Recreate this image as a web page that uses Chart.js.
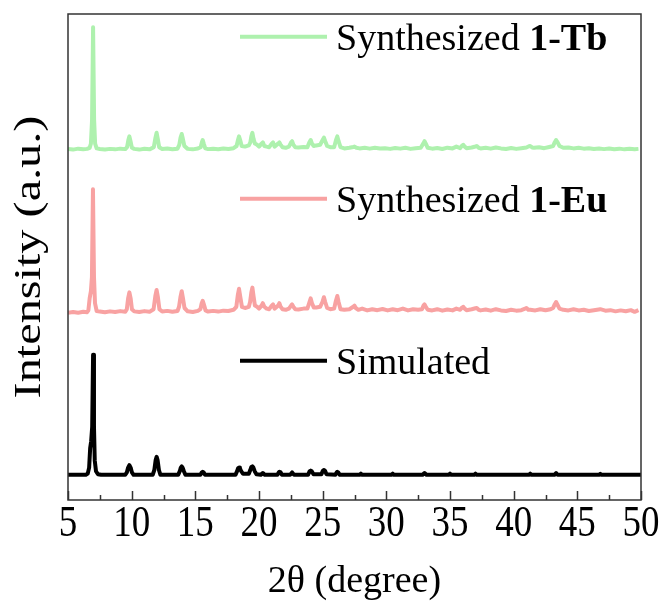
<!DOCTYPE html>
<html>
<head>
<meta charset="utf-8">
<script src="https://cdn.jsdelivr.net/npm/chart.js@4.4.0/dist/chart.umd.min.js"></script>
<style>
  body { margin: 0; background: #fff; }
  canvas { display: block; }
</style>
</head>
<body>
<canvas id="xrdChart" width="662" height="610"></canvas>
<script>
// 2-theta range and tick labels
var thetaMin = 5, thetaMax = 50, thetaStep = 5;
var thetaLabels = ["5", "10", "15", "20", "25", "30", "35", "40", "45", "50"];

// vertical offsets of each pattern (a.u.)
var simOffset = 21, euOffset = 156, tbOffset = 292;

// simulated pattern [2theta, intensity]
var simPattern = [
  [5.0,0],[6.4,0],[6.55,1],[6.66,6],[6.74,22],[6.82,28],[6.9,40],[6.97,100],[7.04,40],[7.1,12],[7.2,3],[7.35,0.5],[7.6,0],
  [9.5,0],[9.62,2],[9.72,6],[9.82,8],[9.92,6],[10.02,2],[10.15,0],
  [11.65,0],[11.78,4],[11.88,12],[11.96,15],[12.04,12],[12.14,4],[12.26,0],
  [13.65,0],[13.78,3],[13.86,6],[13.93,7],[14.0,6],[14.1,3],[14.22,0],
  [15.4,0],[15.5,1.8],[15.58,2.5],[15.66,1.8],[15.76,0],
  [18.15,0],[18.28,3],[18.36,5.5],[18.43,6],[18.5,5.5],[18.6,3],[18.75,0.8],[19.2,0.8],[19.3,3.5],[19.4,6.5],[19.48,7],
  [19.56,6],[19.66,3],[19.8,0.5],
  [20.15,0],[20.3,1.5],[20.45,0],[21.45,0],[21.55,2],[21.6,2.5],[21.7,2],[21.8,0],[22.45,0],[22.6,2],[22.75,0],
  [23.85,0],[23.98,3],[24.06,3.5],[24.14,3],[24.28,0.5],[24.9,0.5],[25.02,3.5],[25.1,4],[25.18,3.5],[25.3,0.5],
  [26.0,0],[26.1,2],[26.15,2.5],[26.22,2],[26.35,0],
  [27.9,0],[28.0,1],[28.1,0],[30.4,0],[30.5,1],[30.6,0],[32.85,0],[33.0,1.5],[33.15,0],
  [34.9,0],[35.0,1],[35.1,0],[36.9,0],[37.0,1],[37.1,0],[41.2,0],[41.3,1],[41.4,0],
  [43.2,0],[43.33,1.5],[43.45,0],[46.7,0],[46.8,0.8],[46.9,0],[50.0,0]
];

// synthesized 1-Eu [2theta, intensity]
var euPattern = [
  [5.0,0],[5.4,0.6],[5.8,0.1],[6.2,0.8],[6.5,0.5],[6.6,2],[6.7,12],[6.8,18],[6.88,30],[6.96,103],[7.04,30],[7.12,8],[7.25,1.5],
  [7.5,1],[7.9,0.4],[8.3,1.2],[8.7,0.6],[9.1,1.4],[9.5,0.8],[9.62,3],[9.72,12],[9.82,17],[9.92,12],[10.02,3],
  [10.2,1.2],[10.6,0.6],[11.0,1.4],[11.4,0.8],[11.72,3],[11.86,14],[11.96,19],[12.06,13],[12.18,3],[12.4,1],[12.8,1.6],
  [13.2,0.8],[13.6,1.5],[13.72,5],[13.83,13],[13.93,18],[14.03,12],[14.15,4],[14.4,1.2],[14.8,0.7],[15.2,1.6],
  [15.4,3],[15.5,8],[15.58,10],[15.67,7],[15.8,2],[16.0,1],[16.4,1.6],[16.8,1],[17.2,1.8],[17.6,1.5],[18.0,2.5],
  [18.22,5],[18.34,15],[18.43,20],[18.52,14],[18.66,5],[18.9,4],[19.2,5],[19.3,9],[19.4,17],[19.48,21],[19.57,14],
  [19.68,6],[19.85,5],[20.0,3.5],
  [20.2,6],[20.3,8],[20.42,5],[20.6,3.5],[20.8,3],[21.0,6],[21.1,7],[21.22,3.5],[21.5,6],[21.6,8],[21.7,5],[21.85,3],
  [22.1,2.5],[22.35,3.5],[22.52,6],[22.6,7],[22.7,5],[22.85,3],[23.1,2.8],[23.5,3.5],[23.8,3.5],[23.94,8],[24.06,12],
  [24.16,8],[24.3,4.5],[24.5,4.5],[24.8,5],[24.98,9],[25.1,13],[25.2,9],[25.35,4],[25.6,3],[25.9,3.5],[26.04,10],
  [26.15,14],[26.25,9],[26.4,3],[26.7,2.5],[27.1,3],[27.4,5],[27.5,6],[27.6,4],
  [27.8,2.5],[28.1,3.5],[28.5,2],[28.9,3],[29.3,2.2],[29.7,3.2],[30.1,2],[30.5,3],[30.9,2.2],
  [31.3,3.5],[31.7,2],[32.1,3],[32.5,2.5],[32.8,3],[32.92,6],[33.0,7],[33.1,5],[33.25,2.5],[33.6,2],[34.0,3],
  [34.4,1.8],[34.8,2.8],[35.2,2],[35.5,3.5],[35.8,2.5],[35.96,4.5],[36.05,5],[36.15,3.5],[36.3,2.2],[36.7,3],[37.0,3.8],
  [37.1,4],[37.25,2.5],[37.4,2],[37.8,2.8],[38.2,1.8],[38.6,3],[39.0,2],[39.4,1.5],[39.8,2.5],[40.2,1.8],[40.6,2.2],
  [40.9,3.5],[41.0,4],[41.15,2.5],[41.3,2.5],[41.7,2],[42.1,3],[42.5,2.2],[42.9,3],[43.1,4],[43.22,7],[43.33,9],
  [43.45,6.5],[43.6,3.5],[43.9,2.5],[44.3,2],[44.7,3],[45.1,2],[45.5,2.5],[45.9,1.5],[46.3,2.2],[46.8,3],[47.2,1.8],
  [47.6,2.2],[48.0,1.2],[48.4,2],[48.8,1.3],[49.2,2.2],[49.5,0.8],[49.8,2.2]
];

// synthesized 1-Tb [2theta, intensity]
var tbPattern = [
  [5.0,0.5],[5.4,0],[5.8,0.8],[6.2,0.3],[6.5,0.6],[6.7,1.5],[6.8,5],[6.89,25],[6.97,102],[7.05,25],[7.13,5],[7.25,1],
  [7.5,0.5],[7.9,0],[8.3,0.6],[8.7,0.2],[9.1,0.8],[9.5,0.4],[9.64,2],[9.74,8],[9.82,11],[9.91,7],[10.02,1.5],
  [10.2,0.6],[10.6,0],[11.0,0.7],[11.4,0.2],[11.74,2],[11.87,10],[11.96,14],[12.05,9],[12.16,2],[12.4,0.5],[12.8,0.9],
  [13.2,0.3],[13.6,0.8],[13.74,4],[13.84,10],[13.93,13],[14.02,9],[14.14,3],[14.4,0.6],[14.8,0.2],[15.2,0.9],
  [15.42,2],[15.51,6],[15.58,8],[15.66,5],[15.78,1],[16.0,0.4],[16.4,0.8],[16.8,0.3],[17.2,0.9],[17.6,0.5],[18.0,1.2],
  [18.24,3],[18.35,8],[18.43,11],[18.52,8],[18.64,3],[18.9,2.5],[19.2,3.5],[19.32,6],[19.4,11],[19.48,14],[19.57,9],
  [19.68,5],[19.85,4],[20.0,2.5],
  [20.2,5],[20.3,6],[20.42,3],[20.6,2.5],[20.8,2],[21.0,5],[21.1,6],[21.22,2.5],[21.5,5],[21.6,6],[21.7,4],[21.85,2],
  [22.1,1.5],[22.35,2.5],[22.52,6],[22.6,7],[22.7,4],[22.85,2],[23.1,1.8],[23.5,2.2],[23.8,2],[23.95,6],[24.06,8],
  [24.16,5],[24.3,3],[24.5,3.5],[24.8,4],[25.0,8],[25.1,10],[25.2,7],[25.35,3],[25.6,2],[25.9,2],[26.05,8],
  [26.15,11],[26.25,7],[26.4,2],[26.7,1],[27.1,1.5],[27.4,2.2],[27.5,2.5],[27.65,1.5],
  [27.9,1],[28.3,1.5],[28.7,0.8],[29.1,1.6],[29.5,1],[29.9,1.2],[30.3,0.6],[30.7,1.4],[31.1,0.8],
  [31.5,1.5],[31.9,0.6],[32.3,1.2],[32.7,1.5],[32.9,5],[33.0,7],[33.1,5],[33.25,1.5],[33.6,0.8],[34.0,1.3],
  [34.4,0.5],[34.8,1.6],[35.2,1],[35.5,2.5],[35.8,1.2],[35.96,3.5],[36.05,4],[36.15,2.5],[36.3,1.2],[36.7,1.8],[37.0,2.6],
  [37.1,3],[37.25,1.5],[37.4,1],[37.8,1.6],[38.2,0.8],[38.6,1.8],[39.0,1],[39.4,0.5],[39.8,1.3],[40.2,0.6],[40.6,1.2],
  [41.0,1.8],[41.2,2.8],[41.3,3],[41.45,1.8],[41.6,1.5],[42.0,2],[42.4,1.2],[42.8,2.2],[43.1,3],[43.22,6],[43.33,8],
  [43.45,6],[43.6,3],[43.9,1.5],[44.3,1.8],[44.7,1],[45.1,1.5],[45.5,0.8],[45.9,1.2],[46.3,0.5],[46.7,1],[47.1,0.4],
  [47.5,0.9],[47.9,0.3],[48.3,0.8],[48.7,0.2],[49.1,0.7],[49.5,0.3],[49.8,0.6]
];

// legend rows: [plain text, bold text, colour, y in a.u.]
var legendRows = [
  ["Synthesized ", "1-Tb", "#aef1ae", 386],
  ["Synthesized ", "1-Eu", "#f8a2a2", 251],
  ["Simulated", "", "#000000", 116]
];

var serif = "'Times New Roman', 'Liberation Serif', serif";

function shift(pattern, offset) {
  return pattern.map(function (p) { return { x: p[0], y: p[1] + offset }; });
}

function line(label, data, colour) {
  return {
    label: label,
    data: data,
    borderColor: colour,
    borderWidth: 4,
    borderJoinStyle: "round",
    pointRadius: 0,
    tension: 0,
    fill: false
  };
}

// box around the plot, inward ticks, tick labels and the y title (tall lettering)
var framePlugin = {
  id: "frame",
  afterDraw: function (chart) {
    var ctx = chart.ctx, a = chart.chartArea, xs = chart.scales.x;
    ctx.save();
    ctx.strokeStyle = "#333";
    ctx.lineWidth = 1.5;
    ctx.strokeRect(a.left, a.top, a.right - a.left, a.bottom - a.top);
    ctx.beginPath();
    for (var t = thetaMin; t <= thetaMax + 0.01; t += thetaStep / 2) {
      var px = Math.round(xs.getPixelForValue(t)) + 0.5;
      var major = Math.abs((t - thetaMin) % thetaStep) < 0.01;
      ctx.moveTo(px, a.bottom);
      ctx.lineTo(px, a.bottom - (major ? 9 : 5));
    }
    ctx.stroke();

    ctx.fillStyle = "#000";
    ctx.font = "37px " + serif;
    ctx.textAlign = "center";
    ctx.textBaseline = "middle";
    thetaLabels.forEach(function (lab, i) {
      ctx.save();
      ctx.translate(xs.getPixelForValue(thetaMin + i * thetaStep), a.bottom + 25);
      ctx.scale(1, 1.18);
      ctx.fillText(lab, 0, 0);
      ctx.restore();
    });

    ctx.save();
    ctx.translate(30, (a.top + a.bottom) / 2);
    ctx.rotate(-Math.PI / 2);
    ctx.scale(1.27, 1);
    ctx.font = "38px " + serif;
    ctx.fillText("Intensity (a.u.)", 0, 0);
    ctx.restore();
    ctx.restore();
  }
};

// legend with a bold sample name
var legendPlugin = {
  id: "mixedLegend",
  afterDraw: function (chart) {
    var ctx = chart.ctx, ys = chart.scales.y;
    ctx.save();
    legendRows.forEach(function (row) {
      var y = ys.getPixelForValue(row[3]);
      ctx.strokeStyle = row[2];
      ctx.lineWidth = 4;
      ctx.beginPath();
      ctx.moveTo(240, y);
      ctx.lineTo(327, y);
      ctx.stroke();
      ctx.fillStyle = "#000";
      ctx.textBaseline = "alphabetic";
      ctx.font = "38px " + serif;
      ctx.fillText(row[0], 336, y + 13);
      var w = ctx.measureText(row[0]).width;
      ctx.font = "bold 38px " + serif;
      ctx.fillText(row[1], 336 + w, y + 13);
    });
    ctx.restore();
  }
};

new Chart(document.getElementById("xrdChart"), {
  type: "line",
  data: {
    datasets: [
      line("Simulated", shift(simPattern, simOffset), "#000000"),
      line("Synthesized 1-Eu", shift(euPattern, euOffset), "#f8a2a2"),
      line("Synthesized 1-Tb", shift(tbPattern, tbOffset), "#aef1ae")
    ]
  },
  options: {
    responsive: false,
    animation: false,
    devicePixelRatio: 1,
    layout: { padding: { top: 14, right: 21, left: 0, bottom: 0 } },
    plugins: { legend: { display: false }, tooltip: { enabled: false } },
    scales: {
      x: {
        type: "linear",
        min: thetaMin,
        max: thetaMax,
        grid: { display: false, drawTicks: false },
        border: { display: false },
        ticks: { display: false, stepSize: thetaStep },
        title: {
          display: true,
          text: "2θ (degree)",
          color: "#000",
          padding: { top: 0, bottom: 5 },
          font: { family: serif, size: 38 }
        },
        afterFit: function (s) { s.height = 110; }
      },
      y: {
        min: 0,
        max: 405,
        grid: { display: false, drawTicks: false },
        border: { display: false },
        ticks: { display: false },
        title: { display: false },
        afterFit: function (s) { s.width = 68; }
      }
    }
  },
  plugins: [framePlugin, legendPlugin]
});
</script>
</body>
</html>
